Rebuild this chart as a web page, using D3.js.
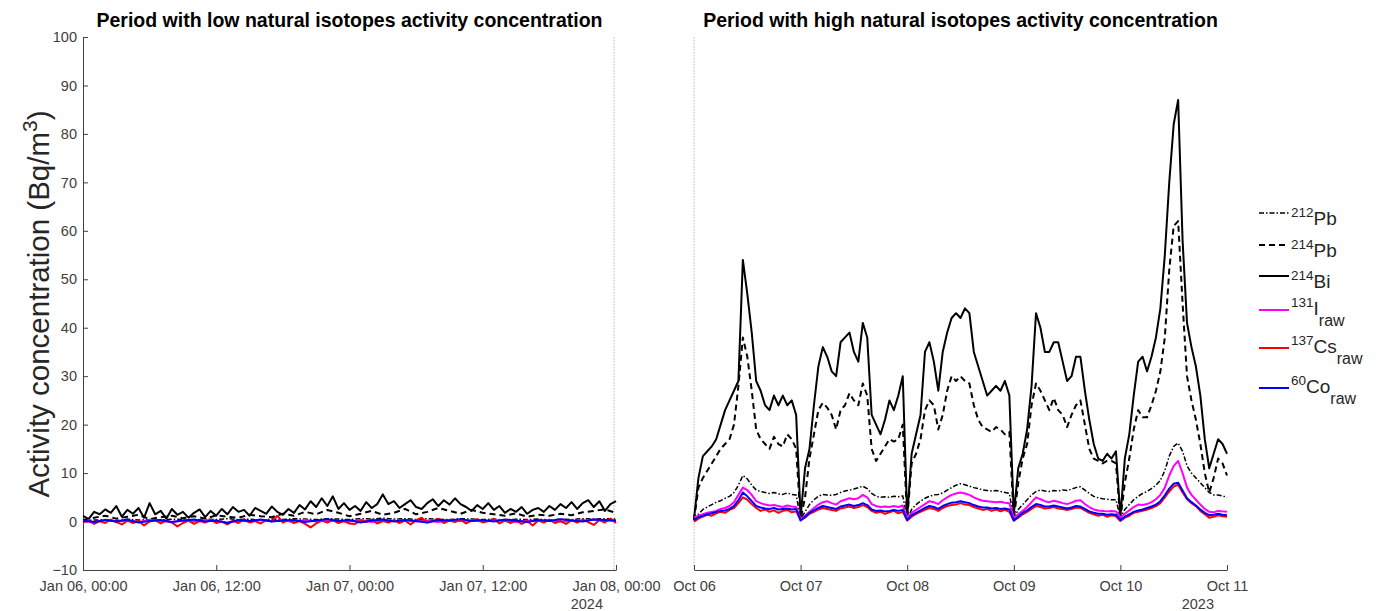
<!DOCTYPE html>
<html>
<head>
<meta charset="utf-8">
<script src="https://cdn.jsdelivr.net/npm/d3@7"></script>
<style>
  body { margin: 0; background: #fff; }
  text { font-family: "Liberation Sans", Arial, sans-serif; }
</style>
</head>
<body>
<div id="chart"></div>
<script>
// ---- data ----
// left period: Jan 06 00:00 -> Jan 08 00:00 2024
const lowStart = new Date(2024, 0, 6, 0), lowEnd = new Date(2024, 0, 8, 0);
// right period: Oct 06 -> Oct 11 2023, hourly
const highStart = new Date(2023, 9, 6, 0), highEnd = new Date(2023, 9, 11, 0);

const lowTicks = [0, 12, 24, 36, 48].map(h => new Date(2024, 0, 6, h));
const highTicks = [6, 7, 8, 9, 10, 11].map(d => new Date(2023, 9, d));
const yTicks = d3.range(-10, 101, 10);

// low period (Bi 30-min, others hourly / 30-min)
const lowBi214 = [1.2, 0.5, 2, 1.5, 2.5, 1.8, 3.2, 1, 2.4, 1.6, 2.8, 0.8, 3.8, 1.5, 2.2, 0.6, 2.6, 1.4, 2, 0.8, 1.8, 2.5, 0.9, 2.2, 1.2,
  2.6, 1.5, 3, 2, 2.4, 1.2, 2.8, 2.2, 1.6, 3.1, 2, 1.4, 2.6, 1.8, 3.4, 2.5, 4.2, 3, 4.8, 3.2, 5.2, 2.6, 3.8, 2.4,
  3.2, 2.2, 4, 2.8, 3.6, 5.6, 3.6, 4.2, 2.8, 3.6, 4.4, 3, 2.6, 3.8, 4.6, 3.2, 4.4, 3.5, 4.8, 3.6, 3, 2.2, 3.4, 2.6,
  3.8, 2.4, 3.2, 1.8, 2.6, 2, 3, 1.6, 2.4, 2.8, 2, 3.2, 2.4, 3.6, 2.8, 4, 2.6, 3.8, 4.4, 3, 4.2, 2.2, 3.6, 4.2];
const lowPb214 = [0.3, 0.8, 1.2, 0.6, 1, 1.4, 0.5, 0.9, 1.2, 0.7, 1.1, 0.6, 1.3, 1, 0.8, 1.4, 1.1, 0.9, 1.6, 1.2, 2, 1.5, 2.4, 1.8, 1.1,
  1.6, 2.2, 1.4, 1.8, 2.6, 1.5, 2, 2.8, 2.2, 1.6, 2.4, 1.8, 1.5, 1.2, 1.7, 1, 1.4, 1.2, 1.6, 1.3, 1.9, 2.2, 2.5, 1.8];
const lowPb212 = [0.2, 0.3, 0.4, 0.2, 0.5, 0.3, 0.4, 0.3, 0.5, 0.4, 0.3, 0.5, 0.4, 0.6, 0.4, 0.5, 0.3, 0.5, 0.4, 0.6, 0.5, 0.4, 0.6, 0.5, 0.4,
  0.6, 0.5, 0.7, 0.5, 0.6, 0.4, 0.6, 0.5, 0.4, 0.6, 0.5, 0.4, 0.5, 0.3, 0.5, 0.4, 0.5, 0.3, 0.5, 0.4, 0.6, 0.5, 0.6, 0.5];
const lowI131 = [0.1, -0.2, 0.3, 0, 0.2, -0.1, 0.3, 0.1, -0.1, 0.2, 0, 0.3, 0.1, -0.2, 0.2, 0, 0.3, 0.1, 0.2, -0.1, 0.3, 0, 0.2, 0.1, 0,
  0.3, -0.1, 0.2, 0.1, 0.3, 0, 0.2, -0.1, 0.3, 0.1, 0.2, 0, 0.3, 0.1, -0.1, 0.2, 0.1, 0.3, 0, 0.2, 0.1, 0.4, 0.2, 0.1];
const lowCs137 = [-0.2, 0.3, -0.5, 0.1, -0.3, 0.4, -0.1, -0.6, 0.2, -0.3, 0.1, -0.8, 0, 0.3, -0.4, 0.2, -0.2, -1, -0.3, 0.2, -0.5, 0.1, -0.2, 0.4, -0.3,
  0, -0.6, 0.2, -0.3, 0.5, -0.2, 0.1, -0.4, 0.3, 0, 1.2, -0.2, 0.3, -0.3, 0.1, -0.5, -1.2, -0.4, 0.2, -0.2, 0.3, -0.3, 0.1, -0.4,
  -0.5, 0.2, -0.1, 0.4, -0.4, 0.1, -0.2, 0.3, -0.3, 0.2, -0.6, 0.3, 0.8, -0.2, 0.1, 0.6, -0.3, 0.2, -0.1, 0.4, -0.4, 0.2, 0.5, -0.2,
  0.1, 0.6, -0.4, 0.2, -0.3, 0.3, -0.5, 0.1, -0.8, 0.2, -0.2, 0.4, -0.3, 0.1, -0.5, 0.3, -0.2, 0.4, -0.1, -0.7, 0.3, -0.2, 0.6, -0.3];
const lowCo60 = [0.2, -0.1, 0.3, 0, 0.4, -0.2, 0.1, 0.3, -0.1, 0.2, 0.4, 0, 0.2, -0.3, 0.3, 0.1, 0.4, 0, 0.2, 0.3, -0.1, 0.2, 0.5, 0.1, 0.3,
  -0.2, 0.2, 0.4, 0, 0.3, 0.1, -0.2, 0.3, 0.2, 0.5, 0.1, 0.3, 0, 0.4, 0.2, -0.1, 0.3, 0.1, 0.5, 0.2, 0, 0.4, 0.3, 0.2];

// high period, hourly values h0..h120
const highBi214 = [0.5, 9, 13.5, 14.5, 15.5, 17, 20, 23, 25, 27, 29, 54, 47, 39, 29, 27, 24, 23, 26, 24, 26, 24, 25, 22,
  1, 11, 15, 24, 32, 36, 34, 31, 30, 37, 38, 39, 35, 33, 41, 38, 22, 20, 18, 21, 25, 23, 26, 30,
  1, 14, 18, 22, 35, 37, 33, 27, 35, 39, 42, 43, 42, 44, 43, 35, 32, 29, 26, 27, 28, 27, 29, 26,
  1.5, 11, 14, 19, 28, 43, 40, 35, 35, 37, 37, 33, 29, 30, 34, 34, 27, 21, 16, 13, 12.5, 14, 13, 14.5,
  1, 13, 18, 26, 33, 34, 31, 34, 38, 44, 55, 70, 82, 87, 58, 41, 36, 32, 26, 17, 11, 14, 17, 16, 14];
const highPb214 = [0.3, 7, 9, 10.5, 12, 13.5, 15, 16, 17, 20, 28, 38, 34, 27, 19, 17, 16, 15, 17.5, 16, 15.5, 18, 17, 15,
  0.5, 5, 13, 18, 23, 24.5, 23.5, 22, 19, 23, 24, 26.5, 25, 24, 28.5, 26, 15, 12.5, 14, 15.5, 17, 16.5, 17, 20,
  0.5, 12, 14, 17, 23, 25, 24, 19, 22, 27, 30, 29, 30, 29, 28.5, 24, 21, 19.5, 19, 18.5, 19.5, 19, 18, 18.5,
  0.5, 8, 13, 16, 24, 28.5, 27, 25, 23, 25.5, 23, 22, 19.5, 22, 24, 25, 20, 15, 13, 12.5, 12, 12.5, 12.5, 12,
  0.5, 8, 13, 19, 23, 21.5, 21.5, 24, 27, 31, 38, 52, 61, 62, 45, 30, 25, 21, 16, 10, 6, 9, 13, 12, 9.5];
const highPb212 = [0.2, 1.5, 2.5, 3, 3.5, 4, 4.3, 4.8, 5.2, 6, 7.5, 9.5, 8.8, 7.5, 6.5, 6.2, 6, 5.8, 6, 5.7, 5.6, 5.9, 5.6, 5.5,
  0.5, 2, 3.5, 4.5, 5.2, 5.6, 5.5, 5.4, 5.6, 6, 6.3, 6.5, 6.7, 7, 7.3, 6.8, 5.8, 5.2, 5, 5.1, 5, 5.2, 5.1, 5.3,
  0.5, 2.5, 3.5, 4.2, 4.8, 5.2, 5.5, 5.6, 5.9, 6.5, 7, 7.5, 7.8, 7.6, 7.3, 7, 6.8, 6.5, 6.4, 6.3, 6.4, 6.2, 6, 5.8,
  0.5, 2.5, 3.5, 4.5, 5.5, 6.2, 6.5, 6.3, 6.2, 6.4, 6.3, 6.5, 6.4, 6.7, 7, 7.2, 6.5, 5.8, 5.2, 4.9, 4.7, 4.6, 4.5, 4.5,
  0.8, 2.5, 3.5, 4.5, 5.2, 5.8, 6.2, 6.8, 7.5, 8.5, 10.5, 13.5, 15.5, 16.2, 14.5, 11.5, 10, 9, 8, 7, 6, 5.5, 5.5, 5.3, 5];
const highI131 = [0.8, 1.2, 1.5, 1.8, 2, 2.2, 2.6, 2.8, 3.2, 4, 5.5, 7, 6.5, 5.5, 4.2, 3.8, 3.5, 3.3, 3.4, 3.2, 3, 3.3, 3.1, 3,
  0.5, 1.2, 2, 2.8, 3.5, 4, 4.2, 3.8, 3.5, 4.2, 4.5, 4.8, 4.6, 4.8, 5.5, 5, 3.6, 3.2, 3, 3.1, 3, 3.2, 3, 3.3,
  0.8, 1.8, 2.4, 3, 3.6, 4.2, 4, 3.6, 4.4, 5, 5.5, 5.8, 6, 5.8, 5.5, 5, 4.6, 4.3, 4.2, 4.1, 4, 4.1, 3.9, 3.8,
  0.8, 1.5, 2.2, 3, 4, 5, 4.6, 4.2, 4, 4.3, 4.1, 3.8, 3.6, 3.9, 4.3, 4.4, 3.6, 3, 2.5, 2.3, 2.2, 2.1, 2.2, 2.1,
  0.8, 1.6, 2.3, 3, 3.5, 3.4, 3.6, 4, 4.6, 5.5, 7, 9.5, 11.5, 12.5, 10, 7, 5.5, 4.5, 3.5, 2.6, 2, 1.9, 2.2, 2.1, 2];
const highCs137 = [0, 0.6, 1, 1.4, 1.2, 1.7, 2, 1.8, 2.4, 2.8, 3.8, 5, 4.5, 3.6, 2.8, 2.2, 2.5, 2, 2.3, 1.8, 2.2, 2.4, 1.9, 2.1,
  0.3, 0.8, 1.6, 2, 2.5, 2.8, 2.6, 2.4, 2.2, 2.7, 2.9, 3.1, 2.8, 3, 3.4, 3, 2.2, 1.8, 2, 1.6, 1.9, 2.2, 1.7, 2,
  0.2, 1, 1.6, 2, 2.4, 2.8, 2.6, 2.2, 2.8, 3.2, 3.4, 3.5, 3.8, 3.5, 3.4, 3, 2.7, 2.4, 2.6, 2.2, 2.5, 2.1, 2.4, 2,
  0.2, 0.8, 1.5, 2, 2.6, 3.2, 3, 2.7, 2.8, 3, 2.7, 2.6, 2.4, 2.6, 2.9, 2.8, 2.3, 1.8, 1.5, 1.2, 1.4, 1, 1.3, 1.1,
  0.1, 0.8, 1.2, 1.8, 2, 2.2, 2.5, 2.8, 3.2, 3.8, 5, 6.2, 7.2, 7.6, 6, 4.6, 3.8, 3.2, 2.2, 1.5, 0.8, 1, 1.3, 1.1, 1];
const highCo60 = [0.3, 0.9, 1.2, 1.5, 1.7, 2, 2.2, 2.3, 2.6, 3.2, 4.4, 6, 5.2, 4.2, 3.2, 2.9, 2.7, 2.6, 2.8, 2.5, 2.6, 2.7, 2.5, 2.6,
  0.2, 1, 1.8, 2.3, 2.8, 3.2, 3, 2.8, 2.6, 3.1, 3.3, 3.5, 3.2, 3.4, 3.8, 3.4, 2.5, 2.2, 2.3, 2.1, 2.2, 2.4, 2.2, 2.4,
  0.3, 1.3, 1.8, 2.3, 2.8, 3.2, 3, 2.6, 3.2, 3.6, 3.9, 4, 4.2, 4, 3.8, 3.4, 3.1, 2.9, 2.9, 2.7, 2.8, 2.6, 2.7, 2.5,
  0.2, 1, 1.8, 2.3, 3, 3.6, 3.4, 3.1, 3.1, 3.3, 3.1, 2.9, 2.7, 2.9, 3.2, 3.1, 2.6, 2.1, 1.8, 1.6, 1.6, 1.4, 1.5, 1.4,
  0.3, 1, 1.5, 2, 2.3, 2.5, 2.8, 3.1, 3.5, 4.2, 5.4, 6.8, 7.8, 8, 6.4, 4.8, 4, 3.3, 2.5, 1.8, 1.3, 1.4, 1.6, 1.4, 1.3];

// series styling, drawn in legend order
const series = [
  {name: "212", el: "Pb", sub: "", low: lowPb212, high: highPb212, color: "#000", dash: "5,2,1.5,2", w: 1.5},
  {name: "214", el: "Pb", sub: "", low: lowPb214, high: highPb214, color: "#000", dash: "6,4", w: 2},
  {name: "214", el: "Bi", sub: "", low: lowBi214, high: highBi214, color: "#000", dash: null, w: 2},
  {name: "131", el: "I", sub: "raw", low: lowI131, high: highI131, color: "#ff00ff", dash: null, w: 2},
  {name: "137", el: "Cs", sub: "raw", low: lowCs137, high: highCs137, color: "#ff0000", dash: null, w: 2},
  {name: "60", el: "Co", sub: "raw", low: lowCo60, high: highCo60, color: "#0000ff", dash: null, w: 2}
];

// ---- layout ----
const W = 1377, H = 611;
const axisCol = "#404040";
const svg = d3.select("#chart").append("svg").attr("width", W).attr("height", H);

const y = d3.scaleLinear().domain([-10, 100]).range([570, 37]);
const xLow = d3.scaleTime().domain([lowStart, lowEnd]).range([83, 616]);
const xHigh = d3.scaleTime().domain([highStart, highEnd]).range([694, 1227]);

// spread an array evenly over its period
function withTimes(arr, start, end) {
  const step = (end - start) / (arr.length - 1);
  return arr.map((v, i) => ({t: new Date(+start + i * step), v: v}));
}

// dotted boundary lines
[xLow(lowEnd) - 2, xHigh(highStart)].forEach(px => {
  svg.append("line")
    .attr("x1", px).attr("x2", px).attr("y1", y(100)).attr("y2", y(-10))
    .attr("stroke", "#b8b8b8").attr("stroke-width", 1).attr("stroke-dasharray", "1.5,1.5");
});

// y axis
const gy = svg.append("g")
  .attr("transform", "translate(83,0)")
  .call(d3.axisLeft(y).tickValues(yTicks).tickSizeInner(-5).tickSizeOuter(0).tickPadding(6));

// x axes
const gxLow = svg.append("g")
  .attr("transform", "translate(0,570)")
  .call(d3.axisBottom(xLow).tickValues(lowTicks).tickFormat(d3.timeFormat("%b %d, %H:%M"))
    .tickSizeInner(-5).tickSizeOuter(0).tickPadding(11));
const gxHigh = svg.append("g")
  .attr("transform", "translate(0,570)")
  .call(d3.axisBottom(xHigh).tickValues(highTicks).tickFormat(d3.timeFormat("%b %d"))
    .tickSizeInner(-5).tickSizeOuter(0).tickPadding(11));
[gy, gxLow, gxHigh].forEach(g => {
  g.attr("color", axisCol);
  g.selectAll("text").style("font-size", "14.5px").attr("fill", axisCol);
  g.selectAll("line, path").attr("stroke-width", 1);
});

// year labels under the last tick
svg.append("text").attr("x", xLow(lowEnd) - 13).attr("y", 609).attr("text-anchor", "end")
  .style("font-size", "14.5px").attr("fill", axisCol).text("2024");
svg.append("text").attr("x", xHigh(highEnd) - 13).attr("y", 609).attr("text-anchor", "end")
  .style("font-size", "14.5px").attr("fill", axisCol).text("2023");

// lines
const lineLow = d3.line().x(d => xLow(d.t)).y(d => y(d.v));
const lineHigh = d3.line().x(d => xHigh(d.t)).y(d => y(d.v));
series.forEach(s => {
  [[s.low, lowStart, lowEnd, lineLow], [s.high, highStart, highEnd, lineHigh]].forEach(([arr, a, b, gen]) => {
    svg.append("path")
      .datum(withTimes(arr, a, b))
      .attr("d", gen)
      .attr("fill", "none")
      .attr("stroke", s.color)
      .attr("stroke-width", s.w)
      .attr("stroke-linejoin", "round")
      .attr("stroke-dasharray", s.dash);
  });
});

// titles
svg.append("text").attr("x", (83 + 616) / 2).attr("y", 27).attr("text-anchor", "middle")
  .style("font-size", "19.5px").style("font-weight", "bold").attr("fill", "#000")
  .text("Period with low natural isotopes activity concentration");
svg.append("text").attr("x", (694 + 1227) / 2).attr("y", 27).attr("text-anchor", "middle")
  .style("font-size", "19.5px").style("font-weight", "bold").attr("fill", "#000")
  .text("Period with high natural isotopes activity concentration");

// y label
const yl = svg.append("text")
  .attr("transform", "translate(49,304) rotate(-90)")
  .attr("text-anchor", "middle")
  .style("font-size", "29.5px").attr("fill", "#262626");
yl.append("tspan").text("Activity concentration (Bq/m");
yl.append("tspan").attr("dy", -12).style("font-size", "21px").text("3");
yl.append("tspan").attr("dy", 12).text(")");

// legend
const legY = [213, 245, 276, 310, 348, 388];
series.forEach((s, i) => {
  const ly = legY[i];
  svg.append("line")
    .attr("x1", 1259).attr("x2", 1289).attr("y1", ly).attr("y2", ly)
    .attr("stroke", s.color).attr("stroke-width", s.w).attr("stroke-dasharray", s.dash);
  const base = s.sub ? ly + 5 : ly + 12;
  const t = svg.append("text").attr("x", 1291).attr("y", base).attr("fill", "#262626");
  t.append("tspan").attr("dy", -8).style("font-size", "13.5px").text(s.name);
  t.append("tspan").attr("dy", 8).style("font-size", "19px").text(s.el);
  if (s.sub) t.append("tspan").attr("dy", 11).style("font-size", "16px").text(s.sub);
});
</script>
</body>
</html>
